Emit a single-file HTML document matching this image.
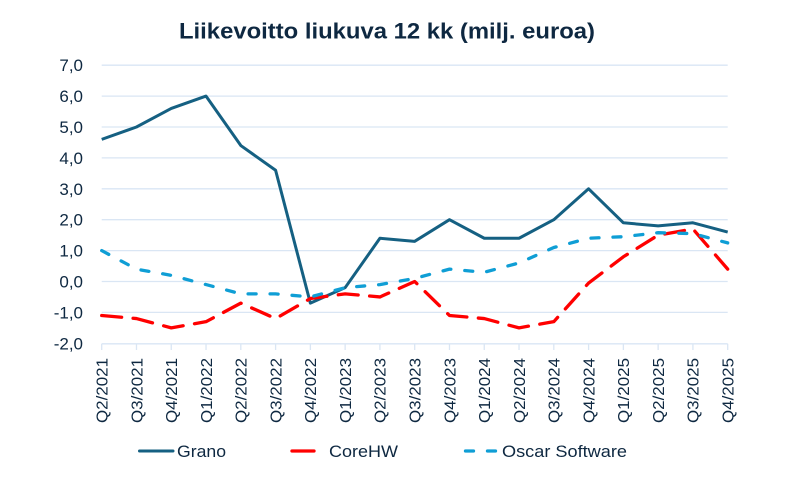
<!DOCTYPE html>
<html><head><meta charset="utf-8"><style>
html,body{margin:0;padding:0;background:#fff;}
svg{display:block;}
text{font-family:"Liberation Sans",sans-serif;fill:#0e2841;}
</style></head><body>
<svg width="800" height="480" viewBox="0 0 800 480" xmlns="http://www.w3.org/2000/svg">
<rect width="800" height="480" fill="#fff"/>
<text x="179" y="38.5" font-size="22" font-weight="bold" textLength="416" lengthAdjust="spacingAndGlyphs">Liikevoitto liukuva 12 kk (milj. euroa)</text>
<g stroke="#dae6f4" stroke-width="1.3">
<line x1="101.7" x2="727.7" y1="65.2" y2="65.2"/>
<line x1="101.7" x2="727.7" y1="96.1" y2="96.1"/>
<line x1="101.7" x2="727.7" y1="127" y2="127"/>
<line x1="101.7" x2="727.7" y1="157.9" y2="157.9"/>
<line x1="101.7" x2="727.7" y1="188.8" y2="188.8"/>
<line x1="101.7" x2="727.7" y1="219.7" y2="219.7"/>
<line x1="101.7" x2="727.7" y1="250.6" y2="250.6"/>
<line x1="101.7" x2="727.7" y1="281.5" y2="281.5"/>
<line x1="101.7" x2="727.7" y1="312.4" y2="312.4"/>
<line x1="101.7" x2="727.7" y1="343.8" y2="343.8"/>
</g>
<g stroke="#dae6f4" stroke-width="1.3">
<line x1="101.7" x2="101.7" y1="343.8" y2="350"/>
<line x1="136.48" x2="136.48" y1="343.8" y2="350"/>
<line x1="171.26" x2="171.26" y1="343.8" y2="350"/>
<line x1="206.03" x2="206.03" y1="343.8" y2="350"/>
<line x1="240.81" x2="240.81" y1="343.8" y2="350"/>
<line x1="275.59" x2="275.59" y1="343.8" y2="350"/>
<line x1="310.37" x2="310.37" y1="343.8" y2="350"/>
<line x1="345.14" x2="345.14" y1="343.8" y2="350"/>
<line x1="379.92" x2="379.92" y1="343.8" y2="350"/>
<line x1="414.7" x2="414.7" y1="343.8" y2="350"/>
<line x1="449.48" x2="449.48" y1="343.8" y2="350"/>
<line x1="484.26" x2="484.26" y1="343.8" y2="350"/>
<line x1="519.03" x2="519.03" y1="343.8" y2="350"/>
<line x1="553.81" x2="553.81" y1="343.8" y2="350"/>
<line x1="588.59" x2="588.59" y1="343.8" y2="350"/>
<line x1="623.37" x2="623.37" y1="343.8" y2="350"/>
<line x1="658.14" x2="658.14" y1="343.8" y2="350"/>
<line x1="692.92" x2="692.92" y1="343.8" y2="350"/>
<line x1="727.7" x2="727.7" y1="343.8" y2="350"/>
</g>
<g font-size="17" text-anchor="end">
<text x="83" y="71.2">7,0</text>
<text x="83" y="102.1">6,0</text>
<text x="83" y="133">5,0</text>
<text x="83" y="163.9">4,0</text>
<text x="83" y="194.8">3,0</text>
<text x="83" y="225.7">2,0</text>
<text x="83" y="256.6">1,0</text>
<text x="83" y="287.5">0,0</text>
<text x="83" y="318.4">-1,0</text>
<text x="83" y="349.3">-2,0</text>
</g>
<g font-size="16" text-anchor="end">
<text transform="translate(107.5,358) rotate(-90)" textLength="65" lengthAdjust="spacingAndGlyphs">Q2/2021</text>
<text transform="translate(142.28,358) rotate(-90)" textLength="65" lengthAdjust="spacingAndGlyphs">Q3/2021</text>
<text transform="translate(177.06,358) rotate(-90)" textLength="65" lengthAdjust="spacingAndGlyphs">Q4/2021</text>
<text transform="translate(211.83,358) rotate(-90)" textLength="65" lengthAdjust="spacingAndGlyphs">Q1/2022</text>
<text transform="translate(246.61,358) rotate(-90)" textLength="65" lengthAdjust="spacingAndGlyphs">Q2/2022</text>
<text transform="translate(281.39,358) rotate(-90)" textLength="65" lengthAdjust="spacingAndGlyphs">Q3/2022</text>
<text transform="translate(316.17,358) rotate(-90)" textLength="65" lengthAdjust="spacingAndGlyphs">Q4/2022</text>
<text transform="translate(350.94,358) rotate(-90)" textLength="65" lengthAdjust="spacingAndGlyphs">Q1/2023</text>
<text transform="translate(385.72,358) rotate(-90)" textLength="65" lengthAdjust="spacingAndGlyphs">Q2/2023</text>
<text transform="translate(420.5,358) rotate(-90)" textLength="65" lengthAdjust="spacingAndGlyphs">Q3/2023</text>
<text transform="translate(455.28,358) rotate(-90)" textLength="65" lengthAdjust="spacingAndGlyphs">Q4/2023</text>
<text transform="translate(490.06,358) rotate(-90)" textLength="65" lengthAdjust="spacingAndGlyphs">Q1/2024</text>
<text transform="translate(524.83,358) rotate(-90)" textLength="65" lengthAdjust="spacingAndGlyphs">Q2/2024</text>
<text transform="translate(559.61,358) rotate(-90)" textLength="65" lengthAdjust="spacingAndGlyphs">Q3/2024</text>
<text transform="translate(594.39,358) rotate(-90)" textLength="65" lengthAdjust="spacingAndGlyphs">Q4/2024</text>
<text transform="translate(629.17,358) rotate(-90)" textLength="65" lengthAdjust="spacingAndGlyphs">Q1/2025</text>
<text transform="translate(663.94,358) rotate(-90)" textLength="65" lengthAdjust="spacingAndGlyphs">Q2/2025</text>
<text transform="translate(698.72,358) rotate(-90)" textLength="65" lengthAdjust="spacingAndGlyphs">Q3/2025</text>
<text transform="translate(733.5,358) rotate(-90)" textLength="65" lengthAdjust="spacingAndGlyphs">Q4/2025</text>
</g>
<polyline fill="none" stroke="#156082" stroke-width="3" stroke-linejoin="round" points="101.7,139.36 136.48,127 171.26,108.46 206.03,96.1 240.81,145.54 275.59,170.26 310.37,303.13 345.14,287.68 379.92,238.24 414.7,241.33 449.48,219.7 484.26,238.24 519.03,238.24 553.81,219.7 588.59,188.8 623.37,222.79 658.14,225.88 692.92,222.79 727.7,232.06"/>
<polyline fill="none" stroke="#ff0000" stroke-width="3.3" stroke-linecap="round" stroke-linejoin="round" stroke-dasharray="20 11.5" points="101.7,315.49 136.48,318.58 171.26,327.85 206.03,321.67 240.81,303.13 275.59,318.58 310.37,298.5 345.14,293.86 379.92,296.95 414.7,281.5 449.48,315.49 484.26,318.58 519.03,327.85 553.81,321.67 588.59,283.05 623.37,256.78 658.14,235.15 692.92,228.97 727.7,269.14"/>
<polyline fill="none" stroke="#0f9ed5" stroke-width="3.3" stroke-linecap="round" stroke-linejoin="round" stroke-dasharray="8 14" points="101.7,250.6 136.48,269.14 171.26,275.32 206.03,284.59 240.81,293.86 275.59,293.86 310.37,296.95 345.14,287.68 379.92,284.59 414.7,278.41 449.48,269.14 484.26,272.23 519.03,262.96 553.81,247.51 588.59,238.24 623.37,236.7 658.14,232.7 692.92,233.6 727.7,242.9"/>
<line x1="139.5" x2="173" y1="451" y2="451" stroke="#156082" stroke-width="3" stroke-linecap="round"/>
<text x="177" y="457" font-size="17" textLength="49" lengthAdjust="spacingAndGlyphs">Grano</text>
<line x1="292" x2="314" y1="451" y2="451" stroke="#ff0000" stroke-width="3.3" stroke-linecap="round"/>
<text x="329" y="457" font-size="17" textLength="69" lengthAdjust="spacingAndGlyphs">CoreHW</text>
<line x1="465.5" x2="473.5" y1="451" y2="451" stroke="#0f9ed5" stroke-width="3.3" stroke-linecap="round"/>
<line x1="487.5" x2="495.5" y1="451" y2="451" stroke="#0f9ed5" stroke-width="3.3" stroke-linecap="round"/>
<text x="502" y="457" font-size="17" textLength="125" lengthAdjust="spacingAndGlyphs">Oscar Software</text>
</svg>
</body></html>
